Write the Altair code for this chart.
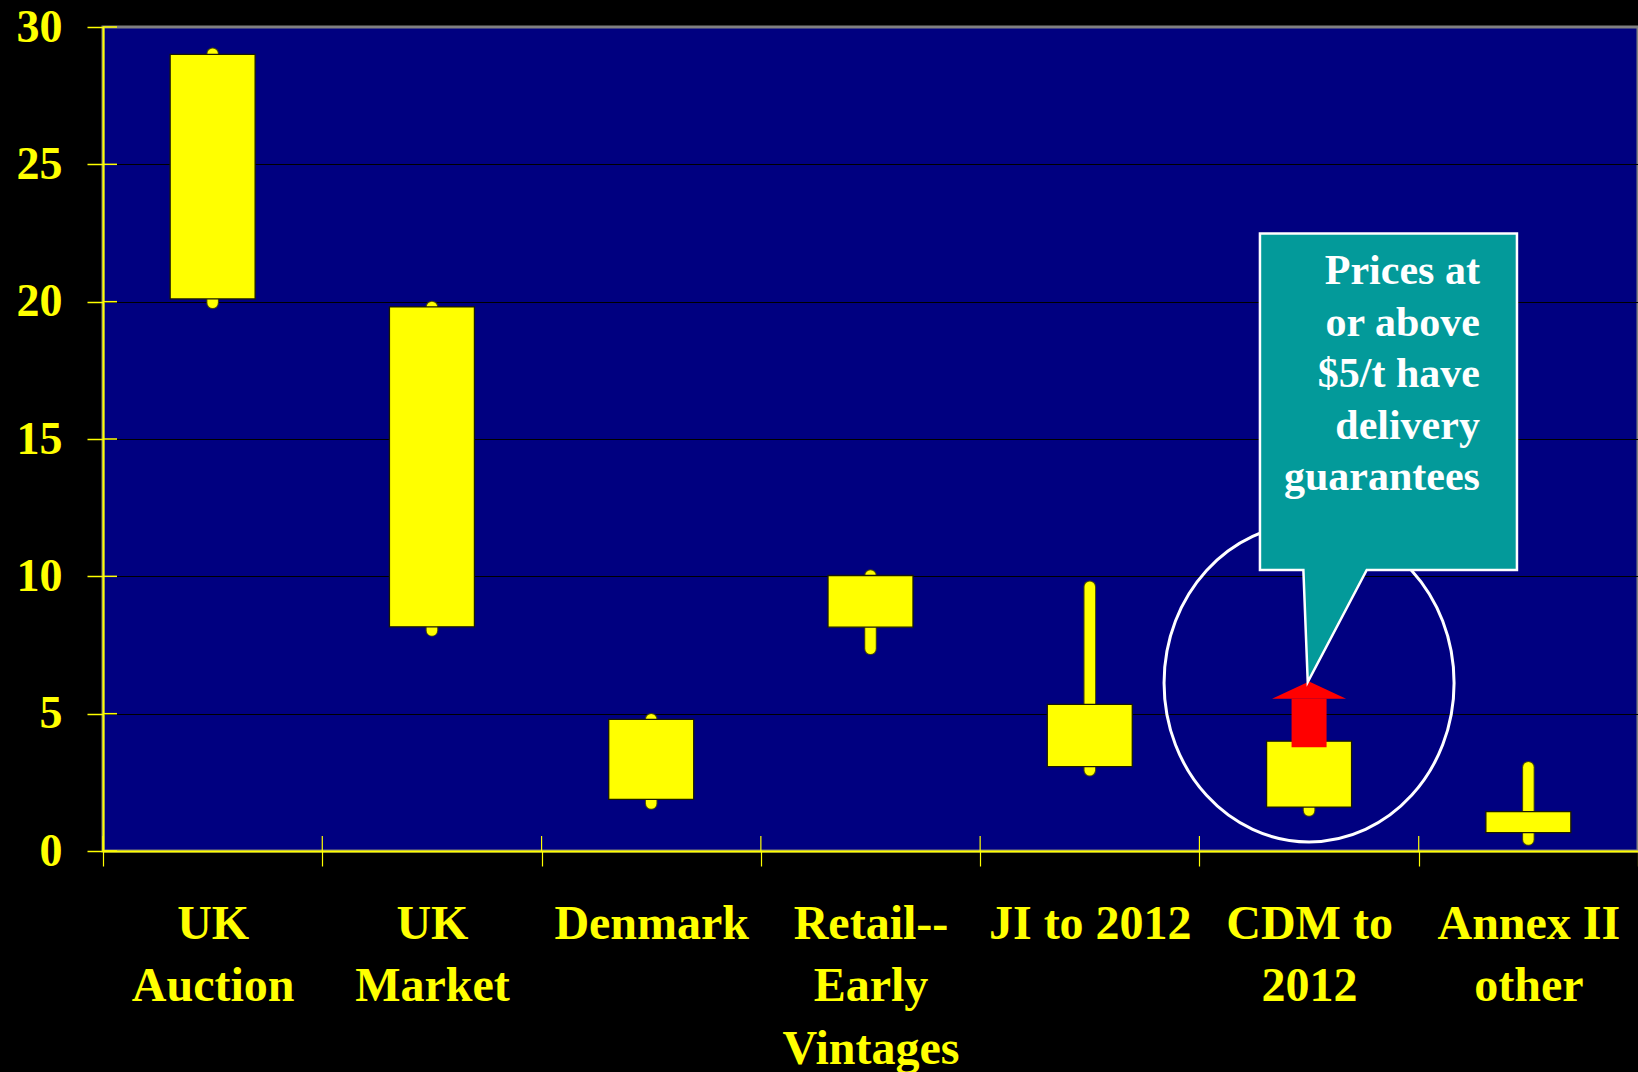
import altair as alt
import pandas as pd

# ---------------- data ----------------
categories = ["UK\nAuction", "UK\nMarket", "Denmark", "Retail--\nEarly\nVintages",
              "JI to 2012", "CDM to\n2012", "Annex II\nother"]
box_low = [20.1, 8.16, 1.88, 8.15, 3.07, 1.6, 0.67]
box_high = [29.0, 19.81, 4.79, 10.03, 5.34, 4.0, 1.43]
whisk_low = [19.96, 8.03, 1.73, 7.36, 2.94, 1.47, 0.42]
whisk_high = [29.03, 19.81, 4.80, 10.03, 9.62, 4.0, 3.05]
y_ticks = [0, 5, 10, 15, 20, 25, 30]

# annotation (CDM)
arrow_cat = ["CDM to\n2012"]
arrow_shaft_low = [3.78]
arrow_head_base = [5.54]
ellipse_y = [6.12]

callout_order = [0, 1, 2, 3, 4, 5, 6]
callout_x = [5.276, 6.448, 6.448, 5.763, 5.494, 5.474, 5.276]   # in category-band units
callout_y = [22.48, 22.48, 10.23, 10.23, 6.15, 10.23, 10.23]
callout_lines = ["Prices at", "or above", "$5/t have", "delivery", "guarantees"]
callout_text_x = [6.279]
callout_text_y = [20.63]

# ---------------- style ----------------
W, H = 1535, 824
FONT = "Liberation Serif"
YELLOW = "#FFFF00"
NAVY = "#000080"
TEAL = "#039A9A"

df = pd.DataFrame({"cat": categories, "box_low": box_low, "box_high": box_high,
                   "whisk_low": whisk_low, "whisk_high": whisk_high})
arrow_df = pd.DataFrame({"cat": arrow_cat, "lo": arrow_shaft_low, "hi": arrow_head_base, "ey": ellipse_y})
ticks_df = pd.DataFrame({"v": y_ticks})
callout_df = pd.DataFrame({"o": callout_order, "x": callout_x, "y": callout_y})
text_df = pd.DataFrame({"x": callout_text_x, "y": callout_text_y, "t": ["\n".join(callout_lines)]})

y_scale = alt.Scale(domain=[0, 30], nice=False, zero=False)
y_axis = alt.Axis(
    values=y_ticks, title=None,
    domainColor=YELLOW, domainWidth=2,
    tickColor=YELLOW, tickSize=16, tickWidth=1.5,
    labelFont=FONT, labelFontWeight="bold", labelFontSize=46, labelColor=YELLOW,
    labelPadding=25,
    grid=True, gridWidth=1.2,
    gridColor={"condition": {"test": "datum.value === 0 || datum.value === 30", "value": "transparent"},
               "value": "black"},
)
x_scale = alt.Scale(domain=categories, paddingInner=0, paddingOuter=0)
x_axis = alt.Axis(
    title=None, labelAngle=0, grid=False,
    domainColor=YELLOW, domainWidth=2,
    tickColor=YELLOW, tickSize=15, tickWidth=1.2, tickBand="extent",
    labelFont=FONT, labelFontWeight="bold", labelFontSize=48, labelColor=YELLOW,
    labelPadding=34, labelLineHeight=62.5, labelExpr="split(datum.label, '\\n')",
    labelOverlap=False, labelLimit=0, labelBound=False,
)

X = alt.X("cat:N", sort=categories, scale=x_scale, axis=x_axis)

base = alt.Chart(df)

whisk_under = base.mark_rule(color="#4d4d00", strokeWidth=12.5, strokeCap="round").encode(
    x=X, y=alt.Y("whisk_low:Q", scale=y_scale, axis=y_axis), y2="whisk_high:Q")
whisk = base.mark_rule(color=YELLOW, strokeWidth=10.5, strokeCap="round").encode(
    x=X, y=alt.Y("whisk_low:Q", scale=y_scale, axis=y_axis), y2="whisk_high:Q")
boxes = base.mark_bar(size=85, color=YELLOW, stroke="#1a1a00", strokeWidth=1.3).encode(
    x=X, y=alt.Y("box_low:Q", scale=y_scale, axis=y_axis), y2="box_high:Q")

# inner halves of the crossing ticks
ytick_inner = alt.Chart(ticks_df).mark_rule(color=YELLOW, strokeWidth=1.5).encode(
    y=alt.Y("v:Q", scale=y_scale, axis=y_axis), x=alt.value(0), x2=alt.value(14))
xtick_inner = base.mark_rule(color=YELLOW, strokeWidth=1.2).encode(
    x=alt.X("cat:N", sort=categories, scale=x_scale, axis=x_axis, bandPosition=0),
    y=alt.value(H - 15), y2=alt.value(H))

ax = alt.Chart(arrow_df)
ellipse_path = ("M-0.912,0C-0.912,-0.5523,-0.5037,-1,0,-1C0.5037,-1,0.912,-0.5523,0.912,0"
                "C0.912,0.5523,0.5037,1,0,1C-0.5037,1,-0.912,0.5523,-0.912,0Z")
ellipse = ax.mark_point(shape=ellipse_path, size=318 * 318, filled=False, color="white",
                        strokeWidth=3, opacity=1).encode(
    x=X, y=alt.Y("ey:Q", scale=y_scale, axis=y_axis))
shaft = ax.mark_bar(size=35, color="#FF0000").encode(
    x=X, y=alt.Y("lo:Q", scale=y_scale, axis=y_axis), y2="hi:Q")
head = ax.mark_point(shape="M-1,0L1,0L0,-0.4676Z", size=74 * 74, filled=True, color="#FF0000",
                     strokeWidth=0, opacity=1).encode(
    x=X, y=alt.Y("hi:Q", scale=y_scale, axis=y_axis))

main = alt.layer(ellipse, whisk_under, whisk, boxes, shaft, head, ytick_inner, xtick_inner)

xq = alt.Scale(domain=[0, 7], nice=False, zero=False)
callout = alt.Chart(callout_df).mark_line(
    interpolate="linear-closed", fill=TEAL, stroke="white", strokeWidth=2.5, strokeJoin="miter").encode(
    x=alt.X("x:Q", scale=xq, axis=None),
    y=alt.Y("y:Q", scale=y_scale, axis=y_axis),
    order="o:Q")
ctext = alt.Chart(text_df).mark_text(
    align="right", baseline="alphabetic", font=FONT, fontWeight="bold", fontSize=42,
    color="white", lineBreak="\n", lineHeight=51.5).encode(
    x=alt.X("x:Q", scale=xq, axis=None),
    y=alt.Y("y:Q", scale=y_scale, axis=y_axis),
    text="t:N")
annot = alt.layer(callout, ctext)

chart = alt.layer(main, annot).resolve_scale(x="independent").properties(
    width=W, height=H,
    padding={"left": 103, "top": 27, "right": 0, "bottom": 221},
    autosize=alt.AutoSizeParams(type="none"),
    background="black",
).configure_view(fill=NAVY, stroke="#808080", strokeWidth=3)

chart.save("out.html", embed_options={"renderer": "svg", "actions": False})
